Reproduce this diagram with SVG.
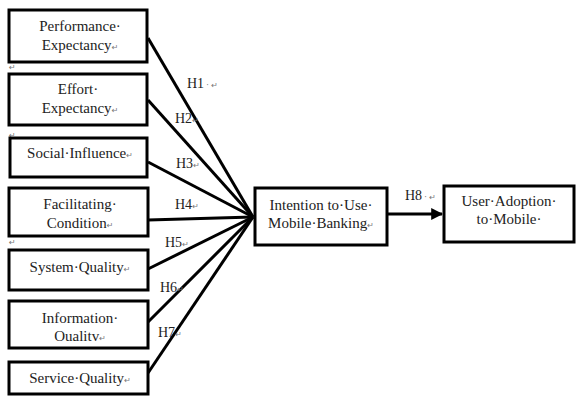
<svg xmlns="http://www.w3.org/2000/svg" width="577" height="397" viewBox="0 0 577 397">
<style>
.box{fill:#fff;stroke:#000;stroke-width:3}
text{font-family:"Liberation Serif","Times New Roman","DejaVu Serif",serif}
.t{font-size:15px;fill:#222;text-anchor:middle}
.h{font-size:14px;fill:#222}
.m{font-family:"DejaVu Sans",sans-serif;font-size:8px;fill:#777}
.ln{stroke:#000;stroke-width:3;fill:none}
</style>
<defs>
<marker id="ah" viewBox="0 0 10 10" refX="9" refY="5" markerWidth="4" markerHeight="4" orient="auto" markerUnits="strokeWidth">
<path d="M0,0 L10,5 L0,10 z" fill="#000"/>
</marker>
</defs>
<rect width="577" height="397" fill="#fff"/>
<g id="connectors">
<line class="ln" x1="148" y1="38" x2="253" y2="217"/>
<line class="ln" x1="148" y1="100" x2="253" y2="217"/>
<line class="ln" x1="148" y1="162" x2="253" y2="217"/>
<line class="ln" x1="148" y1="220" x2="253" y2="217"/>
<line class="ln" x1="148" y1="269" x2="253" y2="217"/>
<line class="ln" x1="148" y1="322" x2="253" y2="217"/>
<line class="ln" x1="148" y1="373" x2="253" y2="217"/>
<line class="ln" x1="387" y1="214" x2="442" y2="214" marker-end="url(#ah)"/>
<text class="h" x="187" y="88" font-family="Liberation Serif, serif">H1<tspan class="m" dx="2">· ↵</tspan></text>
<text class="h" x="175" y="123" font-family="Liberation Serif, serif">H2<tspan class="m">↵</tspan></text>
<text class="h" x="176" y="168" font-family="Liberation Serif, serif">H3<tspan class="m">↵</tspan></text>
<text class="h" x="175" y="209" font-family="Liberation Serif, serif">H4<tspan class="m">↵</tspan></text>
<text class="h" x="165" y="247" font-family="Liberation Serif, serif">H5<tspan class="m">↵</tspan></text>
<text class="h" x="160" y="292" font-family="Liberation Serif, serif">H6<tspan class="m">↵</tspan></text>
<text class="h" x="158" y="337" font-family="Liberation Serif, serif">H7<tspan class="m">↵</tspan></text>
<text class="h" x="405" y="200" font-family="Liberation Serif, serif">H8<tspan class="m" dx="2">· ↵</tspan></text>
</g>
<text class="m" x="9" y="70">↵</text>
<text class="m" x="9" y="138">↵</text>
<text class="m" x="9" y="245">↵</text>
<g id="pe">
<rect class="box" x="9" y="10" width="138" height="52"/>
<text class="t" x="80" y="31">Performance·</text>
<text class="t" x="80" y="50">Expectancy<tspan class="m">↵</tspan></text>
</g>
<g id="ee">
<rect class="box" x="9" y="74" width="138" height="51"/>
<text class="t" x="78" y="94">Effort·</text>
<text class="t" x="80" y="113">Expectancy<tspan class="m">↵</tspan></text>
</g>
<g id="si">
<rect class="box" x="10" y="138" width="137" height="39"/>
<text class="t" x="80" y="158">Social·Influence<tspan class="m">↵</tspan></text>
</g>
<g id="fc">
<rect class="box" x="9" y="188" width="139" height="48"/>
<text class="t" x="80" y="209">Facilitating·</text>
<text class="t" x="80" y="228">Condition<tspan class="m">↵</tspan></text>
</g>
<g id="sq">
<rect class="box" x="9" y="250" width="139" height="40"/>
<text class="t" x="80" y="272">System·Quality<tspan class="m">↵</tspan></text>
</g>
<g id="iq">
<rect class="box" x="9" y="301" width="139" height="47"/>
<text class="t" x="80" y="323">Information·</text>
<text class="t" x="80" y="341">Oualitv<tspan class="m">↵</tspan></text>
</g>
<g id="svq">
<rect class="box" x="9" y="362" width="139" height="32"/>
<text class="t" x="80" y="383">Service·Quality<tspan class="m">↵</tspan></text>
</g>
<g id="itu">
<rect class="box" x="255" y="188" width="132" height="57"/>
<text class="t" x="321" y="210">Intention to·Use·</text>
<text class="t" x="321" y="228">Mobile·Banking<tspan class="m">↵</tspan></text>
</g>
<g id="ua">
<rect class="box" x="444" y="186" width="130" height="56"/>
<text class="t" x="509" y="206">User·Adoption·</text>
<text class="t" x="509" y="224">to·Mobile·</text>
</g>
</svg>
